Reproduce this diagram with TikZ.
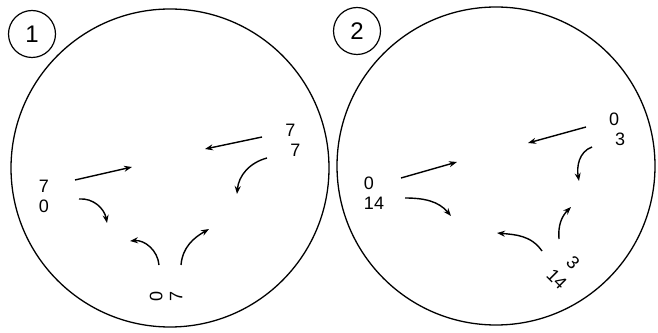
\documentclass[tikz,border=0pt]{standalone}
\usepackage{fontspec}
\setmainfont{Liberation Sans}
\usetikzlibrary{arrows.meta}

\begin{document}
\begin{tikzpicture}[x=1pt, y=1pt, every node/.style={font=\fontsize{18}{20}\selectfont, inner sep=0pt}]
    % Styles
    \tikzstyle{disc} = [circle, draw, line width=1.3pt, minimum size=318pt]
    \tikzstyle{badge} = [circle, draw, line width=1.2pt, minimum size=47pt, font=\fontsize{24}{24}\selectfont]
    \tikzstyle{pair} = [align=center]
    \tikzstyle{flow} = [-{Stealth[length=8pt,width=6pt]}, line width=1.4pt]

    \useasboundingbox (0,0) rectangle (658,332);

    % Circles
    \node[disc] (disc1) at (170,164) {};
    \node[disc] (disc2) at (496,166) {};
    \node[badge, fill=white] (num1) at (32,298) {1};
    \node[badge, fill=white] (num2) at (357,301) {2};

    % Labels
    \node[pair] (left1) at (44,136) {7\\0};
    \node[pair, align=left] (right1) at (293,192) {7\\\hspace*{5pt}7};
    \node[pair, rotate=90] (bottom1) at (166,36) {0\\7};
    \node[pair, align=left] (left2) at (374,139) {0\\14};
    \node[pair, align=left] (right2) at (617,203) {0\\\hspace*{6pt}3};
    \node[pair, rotate=-45] (bottom2) at (565,61) {3\\[3pt]14};

    % Arrow ends
    \coordinate (s1a) at (75,152);  \coordinate (e1a) at (132,165);
    \coordinate (s1b) at (79,133);  \coordinate (e1b) at (107,109);
    \coordinate (s1c) at (262,195); \coordinate (e1c) at (205,183);
    \coordinate (s1d) at (267,174); \coordinate (e1d) at (237,138);
    \coordinate (s1e) at (159,67);  \coordinate (e1e) at (130,91);
    \coordinate (s1f) at (181,67);  \coordinate (e1f) at (209,103);

    \coordinate (s2a) at (401,154); \coordinate (e2a) at (457,170);
    \coordinate (s2b) at (405,134); \coordinate (e2b) at (451,116);
    \coordinate (s2c) at (586,205); \coordinate (e2c) at (528,189);
    \coordinate (s2d) at (592,185); \coordinate (e2d) at (579,151);
    \coordinate (s2e) at (542,81);  \coordinate (e2e) at (497,99);
    \coordinate (s2f) at (559,93);  \coordinate (e2f) at (571,125);

    % Connections
    \draw[flow] (s1a) -- (e1a);
    \draw[flow] (s1b) to[out=5, in=100] (e1b);
    \draw[flow] (s1c) -- (e1c);
    \draw[flow] (s1d) to[out=195, in=85] (e1d);
    \draw[flow] (s1e) to[out=95, in=5] (e1e);
    \draw[flow] (s1f) to[out=85, in=210] (e1f);

    \draw[flow] (s2a) -- (e2a);
    \draw[flow] (s2b) to[out=0, in=130] (e2b);
    \draw[flow] (s2c) -- (e2c);
    \draw[flow] (s2d) to[out=200, in=100] (e2d);
    \draw[flow] (s2e) to[out=125, in=-5] (e2e);
    \draw[flow] (s2f) to[out=95, in=225] (e2f);
\end{tikzpicture}
\end{document}
